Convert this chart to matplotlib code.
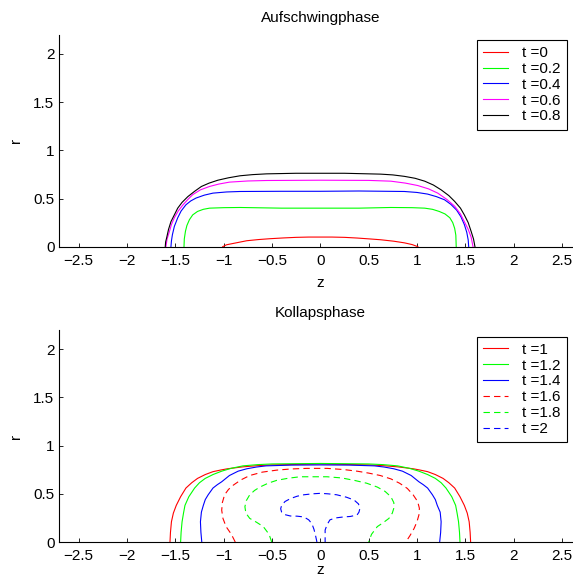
import numpy as np
import matplotlib
matplotlib.use("Agg")
import matplotlib.pyplot as plt

plt.rcParams['font.family'] = ['Liberation Sans', 'DejaVu Sans']
plt.rcParams['font.size'] = 11
plt.rcParams['lines.scale_dashes'] = False

# --- Aufschwingphase (t = 0 .. 0.8), contour r(z)
t_up = [0, 0.2, 0.4, 0.6, 0.8]
col_up = ['#ff0000', '#00ff00', '#0000ff', '#ff00ff', '#000000']

z_t00 = [-1.01, -0.97, -0.88, -0.76, -0.64, -0.52, -0.38, -0.25, -0.12, 0.0, 0.12, 0.25, 0.38, 0.52, 0.625, 0.76, 0.87, 0.95, 1.01]
r_t00 = [0.0, 0.02, 0.038, 0.062, 0.074, 0.083, 0.091, 0.097, 0.10, 0.10, 0.10, 0.097, 0.09, 0.08, 0.072, 0.057, 0.04, 0.022, 0.0]

z_t02 = [-1.41, -1.407, -1.395, -1.38, -1.354, -1.32, -1.27, -1.21, -1.146, -1.0, -0.83, -0.4, 0.0, 0.4, 0.73, 0.95, 1.08, 1.16, 1.23, 1.29, 1.34, 1.37, 1.39, 1.402, 1.406]
r_t02 = [0.0, 0.08, 0.16, 0.22, 0.28, 0.33, 0.366, 0.388, 0.40, 0.405, 0.407, 0.40, 0.40, 0.40, 0.407, 0.405, 0.40, 0.388, 0.366, 0.34, 0.30, 0.25, 0.19, 0.12, 0.0]

z_t04 = [-1.545, -1.54, -1.53, -1.51, -1.475, -1.44, -1.39, -1.34, -1.285, -1.2, -1.11, -0.97, -0.83, -0.4, 0.0, 0.4, 0.87, 1.0, 1.11, 1.2, 1.285, 1.35, 1.41, 1.455, 1.49, 1.515, 1.53, 1.535]
r_t04 = [0.0, 0.06, 0.124, 0.21, 0.30, 0.37, 0.435, 0.475, 0.505, 0.535, 0.556, 0.568, 0.573, 0.575, 0.575, 0.578, 0.573, 0.563, 0.546, 0.52, 0.487, 0.44, 0.38, 0.31, 0.23, 0.15, 0.07, 0.0]

z_t06 = [-1.597, -1.585, -1.56, -1.54, -1.51, -1.47, -1.42, -1.37, -1.32, -1.24, -1.146, -1.05, -0.94, -0.75, -0.555, 0.0, 0.5, 0.73, 0.88, 1.007, 1.12, 1.215, 1.31, 1.39, 1.45, 1.49, 1.53, 1.56, 1.58]
r_t06 = [0.0, 0.08, 0.16, 0.23, 0.30, 0.37, 0.435, 0.49, 0.54, 0.59, 0.625, 0.65, 0.67, 0.682, 0.687, 0.69, 0.688, 0.68, 0.66, 0.635, 0.60, 0.556, 0.49, 0.42, 0.34, 0.26, 0.18, 0.10, 0.0]

z_t08 = [-1.604, -1.60, -1.59, -1.57, -1.545, -1.51, -1.475, -1.43, -1.37, -1.30, -1.23, -1.15, -1.06, -0.95, -0.83, -0.7, -0.555, -0.25, 0.0, 0.25, 0.625, 0.75, 0.87, 0.98, 1.08, 1.17, 1.25, 1.33, 1.39, 1.45, 1.49, 1.53, 1.56, 1.585, 1.60]
r_t08 = [0.0, 0.05, 0.09, 0.18, 0.26, 0.33, 0.40, 0.46, 0.52, 0.575, 0.625, 0.66, 0.69, 0.715, 0.736, 0.748, 0.756, 0.762, 0.762, 0.762, 0.753, 0.745, 0.73, 0.71, 0.68, 0.64, 0.59, 0.53, 0.47, 0.40, 0.33, 0.25, 0.16, 0.08, 0.0]

# --- Kollapsphase (t = 1 .. 2)
t_down = [1, 1.2, 1.4, 1.6, 1.8, 2]
col_down = ['#ff0000', '#00ff00', '#0000ff', '#ff0000', '#00ff00', '#0000ff']
dashed_down = [False, False, False, True, True, True]

z_t10 = [-1.555, -1.55, -1.54, -1.52, -1.49, -1.445, -1.39, -1.33, -1.27, -1.19, -1.11, -1.03, -0.96, -0.8, -0.65, -0.5, 0.0,
         0.5, 0.65, 0.8, 0.96, 1.03, 1.11, 1.19, 1.27, 1.33, 1.39, 1.445, 1.49, 1.52, 1.54, 1.55, 1.555]
r_t10 = [0.0, 0.1, 0.21, 0.30, 0.38, 0.47, 0.56, 0.615, 0.66, 0.70, 0.73, 0.747, 0.76, 0.78, 0.792, 0.80, 0.81,
         0.80, 0.792, 0.78, 0.76, 0.747, 0.73, 0.70, 0.66, 0.615, 0.56, 0.47, 0.38, 0.30, 0.21, 0.1, 0.0]

z_t12 = [-1.445, -1.44, -1.43, -1.415, -1.40, -1.36, -1.30, -1.25, -1.19, -1.11, -1.02, -0.92, -0.8, -0.65, -0.5, 0.0,
         0.5, 0.65, 0.8, 0.92, 1.02, 1.11, 1.19, 1.25, 1.30, 1.36, 1.40, 1.415, 1.43, 1.44, 1.445]
r_t12 = [0.0, 0.1, 0.21, 0.30, 0.38, 0.47, 0.56, 0.615, 0.66, 0.70, 0.735, 0.765, 0.79, 0.803, 0.81, 0.815,
         0.81, 0.803, 0.79, 0.765, 0.735, 0.70, 0.66, 0.615, 0.56, 0.47, 0.38, 0.30, 0.21, 0.1, 0.0]

z_t14 = [-1.226, -1.235, -1.24, -1.23, -1.21, -1.19, -1.16, -1.11, -1.065, -1.02, -0.94, -0.85, -0.76, -0.66, -0.56, -0.3, 0.0,
         0.3, 0.56, 0.66, 0.76, 0.85, 0.94, 1.02, 1.065, 1.11, 1.16, 1.19, 1.21, 1.24, 1.25, 1.245, 1.235]
r_t14 = [0.0, 0.1, 0.21, 0.31, 0.38, 0.44, 0.49, 0.56, 0.595, 0.625, 0.69, 0.735, 0.76, 0.778, 0.79, 0.798, 0.80,
         0.798, 0.79, 0.778, 0.76, 0.735, 0.69, 0.625, 0.595, 0.56, 0.49, 0.44, 0.38, 0.31, 0.21, 0.1, 0.0]

z_t16 = [-0.88, -0.92, -0.975, -1.007, -1.02, -1.013, -0.99, -0.95, -0.90, -0.82, -0.73, -0.6, -0.45, -0.3, -0.14, 0.07,
         0.24, 0.38, 0.50, 0.62, 0.73, 0.82, 0.90, 0.96, 1.007, 1.025, 1.02, 1.0, 0.97, 0.93, 0.885]
r_t16 = [0.0, 0.08, 0.16, 0.245, 0.33, 0.41, 0.49, 0.545, 0.59, 0.645, 0.69, 0.725, 0.746, 0.758, 0.764, 0.764,
         0.752, 0.735, 0.715, 0.69, 0.655, 0.61, 0.556, 0.49, 0.42, 0.35, 0.28, 0.21, 0.14, 0.07, 0.0]

z_t18 = [-0.503, -0.53, -0.59, -0.66, -0.73, -0.77, -0.78, -0.765, -0.73, -0.68, -0.625, -0.54, -0.45, -0.33, -0.21, 0.07,
         0.22, 0.35, 0.48, 0.59, 0.67, 0.73, 0.76, 0.765, 0.745, 0.71, 0.65, 0.59, 0.53, 0.50]
r_t18 = [0.0, 0.08, 0.16, 0.205, 0.245, 0.30, 0.366, 0.43, 0.49, 0.535, 0.57, 0.61, 0.64, 0.662, 0.677, 0.677,
         0.665, 0.64, 0.61, 0.57, 0.525, 0.47, 0.41, 0.366, 0.30, 0.245, 0.20, 0.16, 0.08, 0.0]

z_t20 = [-0.035, -0.05, -0.065, -0.087, -0.12, -0.17, -0.24, -0.31, -0.37, -0.40, -0.41, -0.40, -0.365, -0.31, -0.24, -0.17, -0.08, 0.0,
         0.08, 0.17, 0.27, 0.35, 0.395, 0.41, 0.40, 0.38, 0.31, 0.24, 0.16, 0.10, 0.07, 0.05, 0.05, 0.05]
r_t20 = [0.0, 0.07, 0.13, 0.19, 0.23, 0.26, 0.268, 0.27, 0.285, 0.31, 0.345, 0.38, 0.42, 0.45, 0.475, 0.49, 0.50, 0.505,
         0.50, 0.49, 0.465, 0.435, 0.395, 0.35, 0.31, 0.28, 0.265, 0.26, 0.25, 0.23, 0.18, 0.124, 0.06, 0.0]

curves_up = [(z_t00, r_t00), (z_t02, r_t02), (z_t04, r_t04), (z_t06, r_t06), (z_t08, r_t08)]
curves_down = [(z_t10, r_t10), (z_t12, r_t12), (z_t14, r_t14), (z_t16, r_t16), (z_t18, r_t18), (z_t20, r_t20)]

xticks = [-2.5, -2, -1.5, -1, -0.5, 0, 0.5, 1, 1.5, 2, 2.5]
yticks = [0, 0.5, 1, 1.5, 2]

W, H = 573, 580
fig = plt.figure(figsize=(W / 100, H / 100), dpi=100)

# axes geometry in pixels (MATLAB style axis equal, box off)
ax_left, ax_w, ax_h = 59.3, 522.0, 212.0
ax_up = fig.add_axes([ax_left / W, (H - 246.7) / H, ax_w / W, ax_h / H])
ax_dn = fig.add_axes([ax_left / W, (H - 542.0) / H, ax_w / W, ax_h / H])


def style_axis(ax, title, legend_top, zlab_y):
    ax.set_xlim(-2.7, 2.7)
    ax.set_ylim(0, 2.2)
    ax.spines['top'].set_visible(False)
    ax.spines['right'].set_visible(False)
    for s in ('left', 'bottom'):
        ax.spines[s].set_linewidth(0.8)
    ax.set_xticks(xticks)
    ax.set_xticklabels([('%g' % v).replace('-', '\u2212') for v in xticks])
    ax.set_yticks(yticks)
    ax.set_yticklabels(['%g' % v for v in yticks])
    ax.tick_params(direction='in', length=3, width=0.6)
    ax.tick_params(axis='x', pad=5)
    ax.tick_params(axis='y', pad=3.5)
    ax.set_xlabel('z')
    ax.set_ylabel('r')
    ax.xaxis.set_label_coords(0.5, zlab_y)
    ax.yaxis.set_label_coords(-0.07, 0.5)
    ax.text(0.5, 1 + 16.5 / ax_h, title, transform=ax.transAxes, ha='center', va='center')
    leg = ax.legend(loc='upper right', bbox_to_anchor=(566.7 / W, 1 - legend_top / H),
                    bbox_transform=fig.transFigure, borderaxespad=0, fancybox=False,
                    framealpha=1, edgecolor='black', handlelength=1.65, handletextpad=0.9,
                    labelspacing=0.12, borderpad=0.4, fontsize=11)
    leg.get_frame().set_linewidth(0.8)


for (z, r), t, c in zip(curves_up, t_up, col_up):
    ax_up.plot(z, r, color=c, lw=0.8, label='t =%g' % t)
style_axis(ax_up, 'Aufschwingphase', 40, -0.14)

for (z, r), t, c, d in zip(curves_down, t_down, col_down, dashed_down):
    ls = (0, (4.6, 3.0)) if d else '-'
    ax_dn.plot(z, r, color=c, lw=0.8, ls=ls, label='t =%g' % t)
style_axis(ax_dn, 'Kollapsphase', 336.7, -0.098)

fig.savefig('out.png', dpi=100)
